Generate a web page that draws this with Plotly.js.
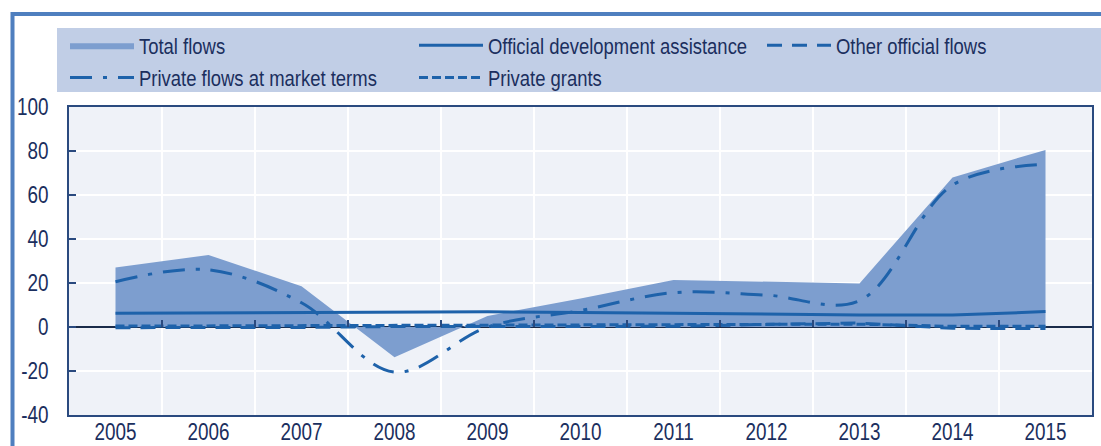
<!DOCTYPE html>
<html>
<head>
<meta charset="utf-8">
<script src="https://cdn.plot.ly/plotly-3.0.1.min.js"></script>
<style>
  html, body { margin: 0; padding: 0; background: #ffffff; }
  #chart { width: 1101px; height: 446px; }
</style>
</head>
<body>
<div id="chart"></div>
<script>
// ---- Data ----
const years = [2005, 2006, 2007, 2008, 2009, 2010, 2011, 2012, 2013, 2014, 2015];
const yearLabels = ['2005','2006','2007','2008','2009','2010','2011','2012','2013','2014','2015'];
const totalFlows = [27, 32.7, 18.5, -13.8, 5, 13, 21.4, 20.6, 19.8, 68, 80.5];
const oda = [6.2, 6.4, 6.6, 7, 6.9, 6.6, 6.2, 5.8, 5.5, 5.4, 7];
const otherOfficial = [-0.3, -0.3, -0.2, 0.2, 0.3, 0.2, 0.3, 1.2, 1.8, -0.6, -0.7];
const privateMarket = [20.6, 26, 11, -20.5, 0, 7.5, 15.6, 14.5, 12, 64.5, 74];
const privateGrants = [0.4, 0.5, 0.5, 0.6, 0.8, 1.0, 1.1, 1.3, 1.3, 0.3, 0.3];
const yTicks = [-40, -20, 0, 20, 40, 60, 80, 100];
const boundaries = [2004.5, 2005.5, 2006.5, 2007.5, 2008.5, 2009.5, 2010.5, 2011.5, 2012.5, 2013.5, 2014.5, 2015.5];

// ---- Style ----
const FONT = '"Liberation Sans", Arial, sans-serif';
const NARROW = 0.82; // condense glyphs like Arial Narrow
const TXT = '#1b2f5e';
const LINE = '#1e62aa';
const FILL = '#7d9ecf';
const AXIS = '#2a4a7f';

// pixel geometry helpers (plot area 69..1092 x 107..415)
const W = 1101, H = 446, ML = 69, MR = 9, MT = 107, MB = 31;
const PW = W - ML - MR, PH = H - MT - MB;
const px = v => (v - ML) / PW;
const py = v => (H - MB - v) / PH;

const traces = [
  {
    x: years, y: totalFlows, name: 'Total flows', type: 'scatter', mode: 'lines',
    fill: 'tozeroy', fillcolor: FILL, line: {width: 0, color: FILL},
    legend: 'legend', legendrank: 1
  },
  {
    x: years, y: privateMarket, name: 'Private flows at market terms', type: 'scatter', mode: 'lines',
    line: {color: LINE, width: 3, dash: '22px,11px,4px,11px', shape: 'spline', smoothing: 1},
    legend: 'legend', legendrank: 2
  },
  {
    x: years, y: oda, name: 'Official development assistance', type: 'scatter', mode: 'lines',
    line: {color: LINE, width: 3},
    legend: 'legend2', legendrank: 1
  },
  {
    x: years, y: privateGrants, name: 'Private grants', type: 'scatter', mode: 'lines',
    line: {color: LINE, width: 3, dash: '9px,4px'},
    legend: 'legend2', legendrank: 2
  },
  {
    x: years, y: otherOfficial, name: 'Other official flows', type: 'scatter', mode: 'lines',
    line: {color: LINE, width: 3, dash: '15px,10px'},
    xaxis: 'x2', legend: 'legend3', legendrank: 1
  }
];

const legendCommon = {
  orientation: 'v', xanchor: 'left', yanchor: 'top',
  bgcolor: 'rgba(0,0,0,0)', borderwidth: 0,
  itemwidth: 64, tracegroupgap: 0,
  font: {family: FONT, size: 22.5, color: TXT},
  itemclick: false, itemdoubleclick: false
};

const layout = {
  width: W, height: H,
  margin: {l: ML, r: MR, t: MT, b: MB, pad: 0},
  paper_bgcolor: '#ffffff',
  plot_bgcolor: '#eff2f8',
  font: {family: FONT, size: 23, color: TXT},
  showlegend: true,
  legend: Object.assign({}, legendCommon, {x: px(65), y: py(24)}),
  legend2: Object.assign({}, legendCommon, {x: px(414), y: py(24)}),
  legend3: Object.assign({}, legendCommon, {x: px(762), y: py(24)}),
  xaxis: {
    range: [2004.5, 2015.5], tickvals: years, ticktext: yearLabels,
    ticks: '', showgrid: false, zeroline: false,
    showline: true, mirror: true, linecolor: AXIS, linewidth: 2,
    tickfont: {family: FONT, size: 23, color: TXT},
    ticklabelstandoff: -5, automargin: false, fixedrange: true
  },
  xaxis2: {
    overlaying: 'x', anchor: 'free', position: 40 / 140, side: 'bottom',
    range: [2004.5, 2015.5], tickvals: boundaries,
    ticks: 'inside', ticklen: 7, tickwidth: 1.5, tickcolor: AXIS,
    showticklabels: false, showgrid: true, gridcolor: '#ffffff', gridwidth: 2,
    showline: false, zeroline: false, automargin: false, fixedrange: true
  },
  yaxis: {
    range: [-40, 100], tickvals: yTicks, ticktext: yTicks.map(String),
    ticks: 'inside', ticklen: 7, tickwidth: 1.5, tickcolor: AXIS,
    showgrid: true, gridcolor: '#ffffff', gridwidth: 2,
    zeroline: true, zerolinecolor: '#1a2b4a', zerolinewidth: 1.5,
    showline: true, mirror: true, linecolor: AXIS, linewidth: 2,
    tickfont: {family: FONT, size: 23, color: TXT},
    ticklabelstandoff: 14, automargin: false, fixedrange: true
  },
  shapes: [
    // legend background band
    {type: 'rect', xref: 'paper', yref: 'paper', layer: 'below',
     x0: px(57), x1: px(1101), y0: py(92), y1: py(28),
     fillcolor: '#c1cee6', line: {width: 0}},
    // outer frame: top and left blue rules
    {type: 'line', xref: 'paper', yref: 'paper',
     x0: px(11), x1: px(1101), y0: py(14), y1: py(14),
     line: {color: '#4f7fbf', width: 4}},
    {type: 'line', xref: 'paper', yref: 'paper',
     x0: px(12.5), x1: px(12.5), y0: py(12), y1: py(446),
     line: {color: '#4f7fbf', width: 4}}
  ]
};

Plotly.newPlot('chart', traces, layout, {staticPlot: true, displayModeBar: false}).then(function (gd) {
  // condense all text horizontally (Arial Narrow look), keeping it real text
  gd.querySelectorAll('svg text').forEach(function (el) {
    if (!el.textContent) return;
    var len = el.getComputedTextLength();
    if (len > 0) {
      el.setAttribute('textLength', (len * NARROW).toFixed(2));
      el.setAttribute('lengthAdjust', 'spacingAndGlyphs');
    }
  });
});
</script>
</body>
</html>
